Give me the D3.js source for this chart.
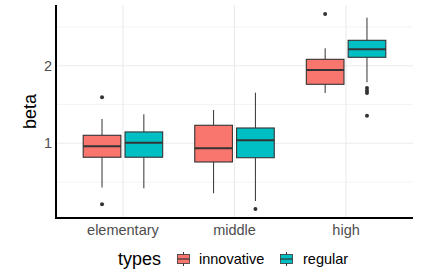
<!DOCTYPE html>
<html>
<head>
<meta charset="utf-8">
<script src="https://cdn.jsdelivr.net/npm/d3@7"></script>
<style>
  html, body { margin: 0; padding: 0; background: #fff; }
  svg { display: block; font-family: "Liberation Sans", Arial, sans-serif; }
</style>
</head>
<body>
<svg id="chart" width="436" height="280"></svg>
<script>
// ---- data ----
const categories = ["elementary", "middle", "high"];
const types = ["innovative", "regular"];
const typeColors = ["#F8766D", "#00BFC4"];
// box statistics per [category][type]
const lowerWhisker = [[0.43, 0.42], [0.356, 0.256], [1.648, 1.786]];
const q1Values     = [[0.82, 0.82], [0.759, 0.814], [1.76, 2.108]];
const medians      = [[0.961, 1.008], [0.935, 1.039], [1.945, 2.211]];
const q3Values     = [[1.103, 1.146], [1.232, 1.197], [2.082, 2.327]];
const upperWhisker = [[1.313, 1.374], [1.429, 1.652], [2.224, 2.619]];
const outliers     = [[[1.593, 0.214], []], [[], [0.153]], [[2.666], [1.713, 1.678, 1.648, 1.356]]];
const yTicks = [1, 2];
const yMinorTicks = [0.5, 1.5, 2.5];
const yDomain = [0.037, 2.782];

// ---- layout ----
const W = 436, H = 280;
const margin = {left: 56, right: 23, top: 5, bottom: 62};
const svg = d3.select("#chart");
const pw = W - margin.left - margin.right;
const ph = H - margin.top - margin.bottom;
const g = svg.append("g").attr("transform", `translate(${margin.left},${margin.top})`);

const x = d3.scalePoint().domain(categories).range([0, pw]).padding(0.6);
const step = x.step();
const y = d3.scaleLinear().domain(yDomain).range([ph, 0]);

// grid
g.selectAll(".minor").data(yMinorTicks).join("line")
  .attr("x1", 0).attr("x2", pw)
  .attr("y1", d => y(d)).attr("y2", d => y(d))
  .attr("stroke", "#EBEBEB").attr("stroke-width", 0.6);
g.selectAll(".majory").data(yTicks).join("line")
  .attr("x1", 0).attr("x2", pw)
  .attr("y1", d => y(d)).attr("y2", d => y(d))
  .attr("stroke", "#EBEBEB").attr("stroke-width", 1.1);
g.selectAll(".majorx").data(categories).join("line")
  .attr("x1", d => x(d)).attr("x2", d => x(d))
  .attr("y1", 0).attr("y2", ph)
  .attr("stroke", "#EBEBEB").attr("stroke-width", 1.1);

// boxes
const dodge = 0.375 * step;
const boxW = 0.3375 * step;
const stroke = "#333333";
categories.forEach((c, ci) => {
  types.forEach((t, ti) => {
    const cx = x(c) + (ti - 0.5) * dodge;
    const bg = g.append("g");
    bg.append("line").attr("x1", cx).attr("x2", cx)
      .attr("y1", y(upperWhisker[ci][ti])).attr("y2", y(q3Values[ci][ti]))
      .attr("stroke", stroke).attr("stroke-width", 1);
    bg.append("line").attr("x1", cx).attr("x2", cx)
      .attr("y1", y(q1Values[ci][ti])).attr("y2", y(lowerWhisker[ci][ti]))
      .attr("stroke", stroke).attr("stroke-width", 1);
    bg.append("rect")
      .attr("x", cx - boxW / 2).attr("width", boxW)
      .attr("y", y(q3Values[ci][ti])).attr("height", y(q1Values[ci][ti]) - y(q3Values[ci][ti]))
      .attr("fill", typeColors[ti]).attr("stroke", stroke).attr("stroke-width", 1.1);
    bg.append("line").attr("x1", cx - boxW / 2).attr("x2", cx + boxW / 2)
      .attr("y1", y(medians[ci][ti])).attr("y2", y(medians[ci][ti]))
      .attr("stroke", stroke).attr("stroke-width", 2);
    bg.selectAll("circle").data(outliers[ci][ti]).join("circle")
      .attr("cx", cx).attr("cy", d => y(d)).attr("r", 2)
      .attr("fill", stroke);
  });
});

// axis lines
g.append("line").attr("x1", 0).attr("x2", 0).attr("y1", 0).attr("y2", ph + 1)
  .attr("stroke", "#000").attr("stroke-width", 2);
g.append("line").attr("x1", -1).attr("x2", pw).attr("y1", ph).attr("y2", ph)
  .attr("stroke", "#000").attr("stroke-width", 2);

// tick labels
g.selectAll(".ylab").data(yTicks).join("text")
  .attr("x", -4).attr("y", d => y(d)).attr("dy", "0.36em")
  .attr("text-anchor", "end").attr("font-size", 14.5).attr("fill", "#4D4D4D")
  .text(d => d3.format("d")(d));
g.selectAll(".xlab").data(categories).join("text")
  .attr("x", d => x(d)).attr("y", ph + 17)
  .attr("text-anchor", "middle").attr("font-size", 14.5).attr("fill", "#4D4D4D")
  .text(d => d);

// axis title
svg.append("text")
  .attr("transform", `translate(36,${margin.top + ph / 2}) rotate(-90)`)
  .attr("text-anchor", "middle").attr("font-size", 18).attr("fill", "#000")
  .text("beta");

// legend
const ly = 259;
const legend = svg.append("g");
legend.append("text").attr("x", 118).attr("y", ly).attr("dy", "0.36em")
  .attr("font-size", 18).attr("fill", "#000").text("types");
const keyX = [183.5, 286.5];
const labX = [199, 303];
types.forEach((t, i) => {
  const k = legend.append("g");
  k.append("line").attr("x1", keyX[i]).attr("x2", keyX[i]).attr("y1", ly - 7).attr("y2", ly + 7)
    .attr("stroke", stroke).attr("stroke-width", 1);
  k.append("rect").attr("x", keyX[i] - 6).attr("y", ly - 4.5).attr("width", 12).attr("height", 9)
    .attr("fill", typeColors[i]).attr("stroke", stroke).attr("stroke-width", 0.8);
  k.append("line").attr("x1", keyX[i] - 6).attr("x2", keyX[i] + 6).attr("y1", ly).attr("y2", ly)
    .attr("stroke", stroke).attr("stroke-width", 1.2);
  legend.append("text").attr("x", labX[i]).attr("y", ly).attr("dy", "0.36em")
    .attr("font-size", 14.5).attr("fill", "#000").text(t);
});
</script>
</body>
</html>
